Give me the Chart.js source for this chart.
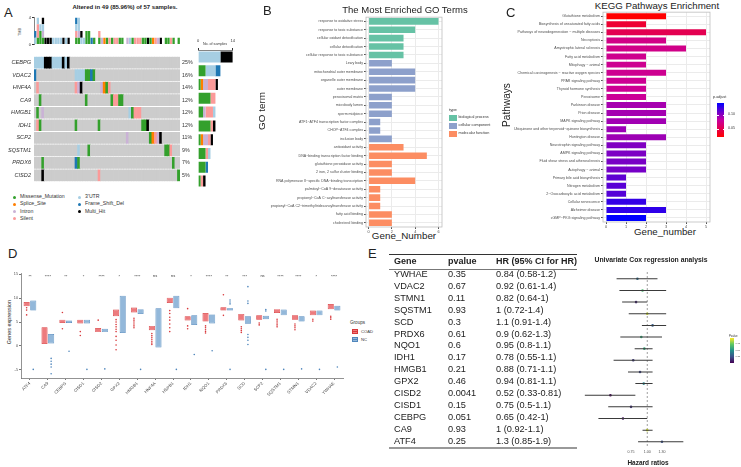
<!DOCTYPE html>
<html>
<head>
<meta charset="utf-8">
<title>Ferroptosis genes panel</title>
<script src="https://cdn.jsdelivr.net/npm/chart.js@4.4.1/dist/chart.umd.min.js"></script>
<style>
  body { margin: 0; background: #fff; }
  #page { position: relative; width: 741px; height: 467px; overflow: hidden; font-family: "Liberation Sans", Arial, sans-serif; color: #222; }
  #page canvas, .t, .bx { position: absolute; }
  .t { white-space: nowrap; line-height: 1; }
</style>
</head>
<body>
<div id="page"></div>
<script>
// ---------- A: oncoplot ----------
const nSamples = 57;
const oncoGenes = ['CEBPG','VDAC2','HNF4A','CA9','HMGB1','IDH1','SCP2','SQSTM1','PRDX6','CISD2'];
const oncoPct = ['25%','16%','14%','12%','12%','12%','11%','9%','7%','5%'];
// [sample column, type code]
const hitsCEBPG = [[0,'U'],[1,'U'],[2,'U'],[3,'U'],[4,'M'],[5,'M'],[6,'M'],[7,'U'],[8,'U'],[9,'U'],[10,'U'],[11,'M'],[12,'U'],[13,'M']];
const hitsVDAC2 = [[0,'D'],[16,'U'],[17,'U'],[18,'U'],[19,'U'],[20,'G'],[21,'G'],[22,'D'],[23,'G']];
const hitsHNF4A = [[1,'S'],[16,'S'],[17,'I'],[18,'M'],[26,'I'],[27,'O'],[28,'G'],[29,'S']];
const hitsCA9 = [[2,'G'],[20,'G'],[30,'G'],[31,'S'],[32,'S'],[33,'G'],[34,'G']];
const hitsHMGB1 = [[1,'G'],[3,'I'],[37,'U'],[38,'G'],[39,'S'],[40,'S'],[41,'S']];
const hitsIDH1 = [[1,'S'],[2,'G'],[16,'G'],[25,'G'],[42,'G'],[43,'G'],[44,'M']];
const hitsSCP2 = [[36,'I'],[45,'G'],[46,'O'],[47,'S'],[48,'I'],[49,'M']];
const hitsSQSTM1 = [[17,'U'],[21,'G'],[51,'G'],[52,'G'],[53,'S']];
const hitsPRDX6 = [[3,'G'],[16,'D'],[17,'G'],[54,'G']];
const hitsCISD2 = [[3,'M'],[25,'S'],[56,'G']];
const oncoHits = [hitsCEBPG,hitsVDAC2,hitsHNF4A,hitsCA9,hitsHMGB1,hitsIDH1,hitsSCP2,hitsSQSTM1,hitsPRDX6,hitsCISD2];
const mutTypes = ['G','O','I','S','U','D','M'];
const mutNames = ['Missense_Mutation','Splice_Site','Intron','Silent',"3'UTR",'Frame_Shift_Del','Multi_Hit'];
const mutColors = ['#33A02C','#FF7F00','#CAB2D6','#FB9A99','#A6CEE3','#1F78B4','#000000'];

// ---------- B: GO ----------
const goTerms = ['response to oxidative stress','response to toxic substance','cellular oxidant detoxification','cellular detoxification','cellular response to toxic substance','Lewy body','mitochondrial outer membrane','organelle outer membrane','outer membrane','peroxisomal matrix','microbody lumen','sperm midpiece','ATF1\u2212ATF4 transcription factor complex','CHOP\u2212ATF4 complex','inclusion body','antioxidant activity','DNA\u2212binding transcription factor binding','glutathione peroxidase activity','2 iron, 2 sulfur cluster binding','RNA polymerase II\u2212specific DNA\u2212binding transcription','palmitoyl\u2212CoA 9\u2212desaturase activity','propionyl\u2212CoA C\u2212acyltransferase activity','propionyl\u2212CoA C2\u2212trimethyltridecanoyltransferase activity','fatty acid binding','cholesterol binding'];
const goCounts = [6,4,3,3,3,2,4,4,4,2,2,2,1,1,2,3,5,2,2,4,1,1,1,2,2];
const goTypes = ['BP','BP','BP','BP','BP','CC','CC','CC','CC','CC','CC','CC','CC','CC','CC','MF','MF','MF','MF','MF','MF','MF','MF','MF','MF'];
const goTypeNames = ['biological process','cellular component','molecular function'];
const goTypeColors = {BP:'#66C2A5', CC:'#8DA0CB', MF:'#FC8D62'};

// ---------- C: KEGG ----------
const keggTerms = ['Glutathione metabolism','Biosynthesis of unsaturated fatty acids','Pathways of neurodegeneration \u2212 multiple diseases','Necroptosis','Amyotrophic lateral sclerosis','Fatty acid metabolism','Mitophagy \u2212 animal','Chemical carcinogenesis \u2212 reactive oxygen species','PPAR signaling pathway','Thyroid hormone synthesis','Peroxisome','Parkinson disease','Prion disease','MAPK signaling pathway','Ubiquinone and other terpenoid\u2212quinone biosynthesis','Huntington disease','Neurotrophin signaling pathway','AMPK signaling pathway','Fluid shear stress and atherosclerosis','Autophagy \u2212 animal','Primary bile acid biosynthesis','Nitrogen metabolism','2\u2212Oxocarboxylic acid metabolism','Cellular senescence','Alzheimer disease','cGMP\u2212PKG signaling pathway'];
const keggCounts = [3,2,5,3,4,2,2,3,2,2,2,3,3,3,1,3,2,2,2,2,1,1,1,2,3,2];
const keggPadj = [0.021,0.040,0.052,0.072,0.073,0.075,0.076,0.076,0.077,0.077,0.078,0.092,0.093,0.094,0.096,0.095,0.104,0.105,0.106,0.107,0.114,0.116,0.117,0.127,0.129,0.143];

// ---------- D: expression boxplots ----------
const dGenes = ['ATF4','CA9','CEBPG','CISD1','CISD2','GPX2','HMGB1','HNF4A','HSPB1','IDH1','NQO1','PRDX6','SCD','SCP2','SQSTM1','STMN1','VDAC2','YWHAE'];
const dSig = ['**','****','**','*','****','*','****','ns','ns','*','****','**','***','ns','****','****','*','****'];
const coadLo  = [6.9,-4.6,3.9,3.4,2.0,5.8,6.1,2.8,7.6,4.4,4.4,6.7,4.2,5.0,5.8,4.8,5.6,6.5];
const coadQ1  = [8.3,0.4,4.8,4.7,2.9,6.2,7.0,3.3,9.0,5.35,5.1,7.4,5.35,5.5,6.9,5.5,6.4,7.7];
const coadMed = [8.75,2.0,5.1,5.07,3.3,7.0,7.6,3.75,9.5,5.8,6.2,7.8,6.0,6.0,7.2,6.0,7.0,8.3];
const coadQ3  = [9.2,3.9,5.5,5.5,3.75,7.6,8.05,4.2,10.1,6.2,6.9,8.1,6.7,6.4,7.7,6.4,7.4,8.75];
const coadHi  = [9.8,8.3,6.8,6.6,5.0,9.3,9.7,5.8,11.4,7.4,8.6,8.9,8.8,7.1,8.7,7.6,8.6,10.5];
const ncLo  = [6.4,-2.0,4.1,3.8,2.4,-1.5,6.0,-5.8,5.6,2.8,3.0,6.8,2.6,5.2,5.4,4.2,5.6,6.9];
const ncQ1  = [7.4,0.5,4.8,4.7,2.9,2.7,6.7,-0.3,7.9,4.4,4.7,7.4,4.65,5.6,6.4,5.1,6.4,7.4];
const ncMed = [8.8,1.5,5.07,5.07,3.2,5.8,7.2,3.6,9.5,5.5,5.6,7.7,5.35,6.05,7.0,5.8,7.0,7.9];
const ncQ3  = [9.5,2.5,5.35,5.5,3.6,10.5,7.7,7.9,10.5,6.4,6.6,7.9,6.2,6.3,7.6,6.2,7.4,8.4];
const ncHi  = [10.3,5.8,6.3,6.6,4.5,12.1,8.6,9.3,12.8,7.6,8.6,8.5,8.6,7.0,8.6,7.2,8.3,8.9];
const coadOut = [[8.0,7.5,6.5],[],[7.0,3.6],[2.2,3.0],[5.4],[5.5,5.0,4.5,4.0,3.5,3.0,2.0,1.2,0.2,-0.8],[5.8,5.4,5.0,4.6,4.2,3.8],[2.6,2.2,1.8,1.4,1.0,0.6,0.3],[7.4,6.8,6.0,5.4,4.6,3.8,3.0],[7.8,4.2,3.6],[4.2,3.8,3.4,3.0,2.7],[10.7,6.4],[4.0,3.6,3.2,2.8],[4.8,4.4],[5.6,5.2,4.8,4.4,4.0],[4.6,4.2,3.8,3.4],[5.6,5.2],[6.2,5.9,5.6]];
const ncOut = [[-4.9],[-2.6,-3.2,-3.8,-4.4,-5.8],[-1.1],[-4.9],[-4.8],[],[-4.9],[],[-4.9],[-1.8],[-1.0],[9.6,9.2,8.8,-4.9],[12.4,9.4,8.9,2.4,1.8,1.2,0.3],[7.6,7.3,-4.9],[-4.9],[-4.8],[-4.9],[-4.4]];

// ---------- E: Cox table + forest ----------
const eGenes = ['YWHAE','VDAC2','STMN1','SQSTM1','SCD','PRDX6','NQO1','IDH1','HMGB1','GPX2','CISD2','CISD1','CEBPG','CA9','ATF4'];
const ePval = [0.35,0.67,0.11,0.93,0.3,0.61,0.6,0.17,0.21,0.46,0.0041,0.15,0.051,0.93,0.25];
const eHR = [0.84,0.92,0.82,1,1.1,0.9,0.95,0.78,0.88,0.94,0.52,0.75,0.65,1,1.3];
const eLo = [0.58,0.61,0.64,0.72,0.91,0.62,0.8,0.55,0.71,0.81,0.33,0.5,0.42,0.92,0.85];
const eHi = [1.2,1.4,1,1.4,1.4,1.3,1.1,1.1,1.1,1.1,0.81,1.1,1,1.1,1.9];
const eTicks = [0.75,1,1.3];

// ---------- helpers ----------
const page = document.getElementById('page');
Chart.defaults.font.family = '"Liberation Sans", Arial, sans-serif';
Chart.defaults.animation = false;
Chart.defaults.responsive = false;
Chart.defaults.plugins.legend.display = false;
Chart.defaults.plugins.tooltip.enabled = false;

function mk(x, y, w, h) {
  const c = document.createElement('canvas');
  c.width = w; c.height = h;
  c.style.left = x + 'px'; c.style.top = y + 'px';
  c.style.width = w + 'px'; c.style.height = h + 'px';
  page.appendChild(c);
  return c;
}
function txt(s, x, y, size, o = {}) {
  const d = document.createElement('div');
  d.className = 't';
  d.textContent = s;
  d.style.left = x + 'px'; d.style.top = y + 'px'; d.style.fontSize = size + 'px';
  if (o.bold) d.style.fontWeight = 'bold';
  if (o.italic) d.style.fontStyle = 'italic';
  if (o.color) d.style.color = o.color;
  const tx = o.align === 'center' ? '-50%' : o.align === 'right' ? '-100%' : '0';
  d.style.transform = `translate(${tx},-50%)` + (o.rot ? ` rotate(${o.rot}deg)` : '');
  page.appendChild(d);
}
function box(x, y, w, h, css) {
  const d = document.createElement('div');
  d.className = 'bx';
  d.style.left = x + 'px'; d.style.top = y + 'px'; d.style.width = w + 'px'; d.style.height = h + 'px';
  Object.assign(d.style, css);
  page.appendChild(d);
}
const fixW = w => s => { s.width = w; };
const fixH = h => s => { s.height = h; };
const setTicks = vals => s => { s.ticks = vals.map(v => ({ value: v })); };
const framePlugin = {
  id: 'frame',
  afterDraw(c) {
    const a = c.chartArea, ctx = c.ctx;
    ctx.save();
    ctx.strokeStyle = '#BDBDBD'; ctx.lineWidth = 0.8;
    ctx.strokeRect(a.left, a.top, a.right - a.left, a.bottom - a.top);
    ctx.restore();
  }
};

// ---------- A ----------
const cols = Array.from({ length: nSamples }, (_, i) => i);
const codeAt = (g, c) => { const h = oncoHits[g].find(p => p[0] === c); return h ? h[1] : null; };

txt('A', 4, 12, 13);
txt('Altered in 49 (85.96%) of 57 samples.', 125, 7, 6, { bold: true, align: 'center' });
txt('TMB', 21, 32, 3.8, { rot: -90, align: 'center', color: '#444' });

// TMB stacked bars
const tmbSets = mutTypes.map((t, k) => ({
  data: cols.map(c => oncoHits.reduce((n, h) => n + h.filter(p => p[0] === c && p[1] === t).length, 0)),
  backgroundColor: mutColors[k], categoryPercentage: 0.9, barPercentage: 1
}));
const tmbMax = Math.max(...cols.map(c => tmbSets.reduce((n, s) => n + s.data[c], 0)));
new Chart(mk(0, 14, 190, 34), {
  type: 'bar',
  data: { labels: cols, datasets: tmbSets },
  options: {
    layout: { padding: { top: 2, right: 10 } },
    scales: {
      x: { display: false, stacked: true },
      y: { stacked: true, min: 0, max: tmbMax, afterBuildTicks: setTicks([0, tmbMax]), afterFit: fixW(34),
           ticks: { font: { size: 4 }, color: '#333', padding: 1 },
           grid: { drawOnChartArea: false, tickLength: 2, color: '#333' }, border: { color: '#333', width: 0.6 } }
    }
  }
});

// oncoplot grid
new Chart(mk(0, 50, 194, 138), {
  type: 'bar',
  data: {
    labels: cols,
    datasets: oncoGenes.map((g, i) => ({
      data: cols.map(() => [i + 0.06, i + 0.94]),
      backgroundColor: cols.map(c => { const k = codeAt(i, c); return k ? mutColors[mutTypes.indexOf(k)] : '#CCCCCC'; }),
      categoryPercentage: 1, barPercentage: 1, grouped: false
    }))
  },
  options: {
    layout: { padding: 0 },
    scales: {
      x: { display: false },
      y: { min: 0, max: 10, reverse: true, afterBuildTicks: setTicks(oncoGenes.map((g, i) => i + 0.5)), afterFit: fixW(34),
           ticks: { callback: (v, i) => oncoGenes[i], font: { size: 5.6, style: 'italic' }, color: '#333', padding: 3 },
           grid: { display: false, drawTicks: false }, border: { display: false } },
      yr: { type: 'linear', position: 'right', min: 0, max: 10, reverse: true, afterBuildTicks: setTicks(oncoGenes.map((g, i) => i + 0.5)), afterFit: fixW(14),
           ticks: { callback: (v, i) => oncoPct[i], font: { size: 5.3 }, color: '#333', padding: 2 },
           grid: { display: false, drawTicks: false }, border: { display: false } }
    }
  }
});

// samples per gene
new Chart(mk(192, 38, 48, 150), {
  type: 'bar',
  data: {
    labels: oncoGenes,
    datasets: mutTypes.map((t, k) => ({
      data: oncoHits.map(h => h.filter(p => p[1] === t).length),
      backgroundColor: mutColors[k], categoryPercentage: 0.8, barPercentage: 1
    }))
  },
  options: {
    indexAxis: 'y',
    layout: { padding: { left: 2, right: 4 } },
    scales: {
      y: { display: false, stacked: true },
      x: { stacked: true, position: 'top', min: 0, max: 14, afterBuildTicks: setTicks([0, 14]), afterFit: fixH(12),
           ticks: { font: { size: 4 }, color: '#333', padding: 5 },
           grid: { drawOnChartArea: false, tickLength: 2, color: '#333' }, border: { color: '#333', width: 0.6 } }
    }
  }
});
txt('No. of samples', 215, 44.5, 3.6, { align: 'center', color: '#333' });

mutNames.forEach((n, k) => {
  const col = k < 4 ? 0 : 1, row = k < 4 ? k : k - 4;
  const x = col ? 78 : 13, y = 197.3 + row * 7.1;
  box(x, y - 1.5, 3, 3, { background: mutColors[k], borderRadius: '50%' });
  txt(n, x + 7, y, 5.2, { color: '#333' });
});

// ---------- B ----------
txt('B', 263, 10, 13);
txt('The Most Enriched GO Terms', 405, 9.5, 9.5, { align: 'center' });
txt('GO term', 262, 111, 9.9, { rot: -90, align: 'center' });
txt('Gene_Number', 404, 236, 9.8, { align: 'center' });
new Chart(mk(268, 14, 178, 222), {
  type: 'bar',
  data: { labels: goTerms, datasets: [{ data: goCounts, backgroundColor: goTypes.map(t => goTypeColors[t]), categoryPercentage: 0.78, barPercentage: 1 }] },
  options: {
    indexAxis: 'y',
    layout: { padding: { top: 3, right: 4 } },
    scales: {
      x: { min: -0.22, max: 6.3, afterBuildTicks: setTicks([0, 2, 4, 6]), afterFit: fixH(9),
           ticks: { font: { size: 3.8 }, color: '#4D4D4D', padding: 1 },
           grid: { color: '#EBEBEB', tickColor: '#555', tickLength: 2 }, border: { display: false } },
      y: { afterFit: fixW(98),
           ticks: { autoSkip: false, font: { size: 3.6 }, color: '#4D4D4D', padding: 1 },
           grid: { offset: false, color: '#EBEBEB', tickColor: '#555', tickLength: 2 }, border: { display: false } }
    }
  },
  plugins: [framePlugin]
});
txt('type', 449, 110, 4.2, { color: '#333' });
goTypeNames.forEach((n, k) => {
  const y = 115 + k * 7.8;
  box(449, y, 7.5, 6, { background: Object.values(goTypeColors)[k] });
  txt(n, 458.5, y + 3, 3.8, { color: '#333' });
});

// ---------- C ----------
function padjColor(p) {
  const t = Math.min(1, Math.max(0, (p - 0.021) / (0.143 - 0.021)));
  const a = t < 0.5 ? [255, 0, 0] : [200, 0, 160], b = t < 0.5 ? [200, 0, 160] : [0, 0, 255];
  const u = t < 0.5 ? t / 0.5 : (t - 0.5) / 0.5;
  return `rgb(${a.map((v, i) => Math.round(v + (b[i] - v) * u)).join(',')})`;
}
txt('C', 506, 12, 13);
txt('KEGG Pathways Enrichment', 657, 5.5, 9.7, { align: 'center' });
txt('Pathways', 507, 105, 10.1, { rot: -90, align: 'center' });
txt('Gene_number', 665, 232, 9.7, { align: 'center' });
new Chart(mk(512, 9, 202, 220), {
  type: 'bar',
  data: { labels: keggTerms, datasets: [{ data: keggCounts, backgroundColor: keggPadj.map(padjColor), categoryPercentage: 0.74, barPercentage: 1 }] },
  options: {
    indexAxis: 'y',
    layout: { padding: { top: 3, right: 4 } },
    scales: {
      x: { min: -0.15, max: 5.2, afterBuildTicks: setTicks([0, 1, 2, 3, 4, 5]), afterFit: fixH(7),
           ticks: { font: { size: 3.8 }, color: '#4D4D4D', padding: 1 },
           grid: { color: '#EBEBEB', tickColor: '#555', tickLength: 2 }, border: { display: false } },
      y: { afterFit: fixW(91),
           ticks: { autoSkip: false, font: { size: 3.6 }, color: '#4D4D4D', padding: 1 },
           grid: { offset: false, color: '#EBEBEB', tickColor: '#555', tickLength: 2 }, border: { display: false } }
    }
  },
  plugins: [framePlugin]
});
txt('p.adjust', 713, 98, 3.8, { color: '#333' });
box(717, 103, 7, 34, { background: `linear-gradient(to bottom, ${padjColor(0.143)}, ${padjColor(0.082)}, ${padjColor(0.021)})` });
[[0.10, '0.10'], [0.05, '0.05']].forEach(([p, s]) => {
  const y = 103 + (0.143 - p) / (0.143 - 0.021) * 34;
  box(717, y, 1.5, 0.5, { background: '#fff' }); box(722.5, y, 1.5, 0.5, { background: '#fff' });
  txt(s, 728, y, 3.6, { color: '#333' });
});

// ---------- D ----------
txt('D', 8, 253, 13);
txt('Genes expression', 10, 322, 5.5, { rot: -90, align: 'center', color: '#222' });
const dGroups = [
  { lo: coadLo, med: coadMed, hi: coadHi, out: coadOut, line: '#D8383B' },
  { lo: ncLo, med: ncMed, hi: ncHi, out: ncOut, line: '#4F86BC' }
];
const boxPlugin = {
  id: 'boxes',
  afterDatasetsDraw(c) {
    const ctx = c.ctx, ys = c.scales.y, xs = c.scales.x;
    ctx.save();
    dGroups.forEach((g, d) => {
      c.getDatasetMeta(d).data.forEach((el, i) => {
        const cx = el.x, w = el.width;
        ctx.strokeStyle = g.line; ctx.lineWidth = 0.7;
        ctx.beginPath();
        ctx.moveTo(cx, ys.getPixelForValue(g.hi)); ctx.lineTo(cx, el.y < el.base ? el.y : el.base);
        ctx.moveTo(cx, el.y < el.base ? el.base : el.y); ctx.lineTo(cx, ys.getPixelForValue(g.lo));
        ctx.stroke();
        ctx.lineWidth = 1.3;
        ctx.beginPath();
        const my = ys.getPixelForValue(g.med);
        ctx.moveTo(cx - w / 2, my); ctx.lineTo(cx + w / 2, my);
        ctx.stroke();
        ctx.fillStyle = g.line;
        g.out[i].forEach(v => {
          ctx.beginPath(); ctx.arc(cx, ys.getPixelForValue(v), 0.8, 0, Math.PI * 2); ctx.fill();
        });
      });
    });
    ctx.fillStyle = '#333'; ctx.font = '4px "Liberation Sans", Arial, sans-serif'; ctx.textAlign = 'center'; ctx.textBaseline = 'middle';
    dSig.forEach((s, i) => ctx.fillText(s, xs.getPixelForValue(i), ys.getPixelForValue(s === 'ns' ? 14.7 : 14.5)));
    ctx.restore();
  }
};
new Chart(mk(0, 270, 348, 128), {
  type: 'bar',
  data: {
    labels: dGenes,
    datasets: [
      { data: dGenes.map((g, i) => [coadQ1[i], coadQ3[i]]), backgroundColor: 'rgba(236,112,115,0.92)', borderColor: '#D8383B', borderWidth: 0.7, borderSkipped: false, categoryPercentage: 0.74, barPercentage: 0.92 },
      { data: dGenes.map((g, i) => [ncQ1[i], ncQ3[i]]), backgroundColor: 'rgba(138,178,215,0.92)', borderColor: '#4F86BC', borderWidth: 0.7, borderSkipped: false, categoryPercentage: 0.74, barPercentage: 0.92 }
    ]
  },
  options: {
    layout: { padding: { right: 5 } },
    scales: {
      x: { afterFit: fixH(20),
           ticks: { autoSkip: false, minRotation: 45, maxRotation: 45, font: { size: 4.3 }, color: '#4D4D4D', padding: 1 },
           grid: { offset: false, drawOnChartArea: false, tickLength: 2, color: '#777' }, border: { color: '#777', width: 0.8 } },
      y: { min: -6.7, max: 15.2, afterBuildTicks: setTicks([-5, 0, 5, 10, 15]), afterFit: fixW(21),
           ticks: { font: { size: 3.8 }, color: '#4D4D4D', padding: 1 },
           grid: { drawOnChartArea: false, tickLength: 2, color: '#777' }, border: { color: '#777', width: 0.8 } }
    }
  },
  plugins: [boxPlugin]
});
txt('Groups', 350, 323, 4.6, { color: '#333' });
[['COAD', 'rgba(236,112,115,0.92)', '#D8383B'], ['NC', 'rgba(138,178,215,0.92)', '#4F86BC']].forEach(([n, f, l], k) => {
  const y = 332 + k * 8;
  box(352, y - 3, 6, 5, { background: f, border: `0.7px solid ${l}`, boxSizing: 'border-box' });
  box(352, y - 0.6, 6, 1, { background: l });
  txt(n, 361, y, 4.2, { color: '#333' });
});

// ---------- E ----------
txt('E', 368, 253, 13);
box(389, 253.5, 188, 1.4, { background: '#333' });
box(389, 268.5, 188, 0.8, { background: '#777' });
box(389, 446.8, 188, 1.8, { background: '#999' });
txt('Gene', 394, 260.5, 9, { bold: true });
txt('pvalue', 448, 260.5, 9, { bold: true });
txt('HR (95% CI for HR)', 496, 260.5, 9, { bold: true });
eGenes.forEach((g, i) => {
  const y = 275 + i * 11.907;
  txt(g, 394, y, 9.2);
  txt(String(ePval[i]), 448, y, 9.2);
  txt(`${eHR[i]} (${eLo[i]}-${eHi[i]})`, 496, y, 9.2);
});
const viridisStops = [[68, 1, 84], [59, 82, 139], [33, 144, 140], [93, 200, 99], [253, 231, 37]];
function viridis(t) {
  const s = Math.min(0.9999, Math.max(0, t)) * 4, k = Math.floor(s), u = s - k;
  const a = viridisStops[k], b = viridisStops[k + 1];
  return `rgb(${a.map((v, i) => Math.round(v + (b[i] - v) * u)).join(',')})`;
}
txt('Univariate Cox regression analysis', 651, 260, 6.8, { bold: true, align: 'center' });
txt('Hazard ratios', 648, 463, 6.5, { bold: true, align: 'center' });
const dashPlugin = {
  id: 'dash',
  beforeDatasetsDraw(c) {
    const x = c.scales.x.getPixelForValue(1), a = c.chartArea, ctx = c.ctx;
    ctx.save(); ctx.strokeStyle = '#888'; ctx.lineWidth = 0.8; ctx.setLineDash([2, 2]);
    ctx.beginPath(); ctx.moveTo(x, a.top - 1); ctx.lineTo(x, a.bottom); ctx.stroke(); ctx.restore();
  }
};
new Chart(mk(572, 269, 128, 187), {
  type: 'bar',
  data: {
    labels: eGenes,
    datasets: [
      { type: 'bar', data: eGenes.map((g, i) => [eLo[i], eHi[i]]), backgroundColor: '#3A3A3A', barThickness: 1, inflateAmount: 0 },
      { type: 'scatter', data: eGenes.map((g, i) => ({ x: eHR[i], y: g })), pointRadius: 1.3, pointBorderWidth: 0, pointBackgroundColor: ePval.map(viridis) }
    ]
  },
  options: {
    indexAxis: 'y',
    layout: { padding: 0 },
    scales: {
      y: { display: false },
      x: { type: 'logarithmic', min: 0.282, max: 2.38, afterBuildTicks: setTicks(eTicks), afterFit: fixH(8.4),
           ticks: { callback: v => v.toFixed(2), font: { size: 3.6 }, color: '#4D4D4D', padding: 2 },
           grid: { display: false, drawTicks: false }, border: { display: false } }
    }
  },
  plugins: [dashPlugin]
});
txt('Pvalue', 729, 335.5, 2.8, { color: '#333' });
box(730, 338, 4, 25, { background: `linear-gradient(to bottom, ${viridis(1)}, ${viridis(0.75)}, ${viridis(0.5)}, ${viridis(0.25)}, ${viridis(0)})` });
[[0.75, '0.75'], [0.5, '0.50'], [0.25, '0.25']].forEach(([p, s]) => {
  txt(s, 735.5, 338 + (1 - p) * 25, 2.4, { color: '#555' });
});
</script>
</body>
</html>
